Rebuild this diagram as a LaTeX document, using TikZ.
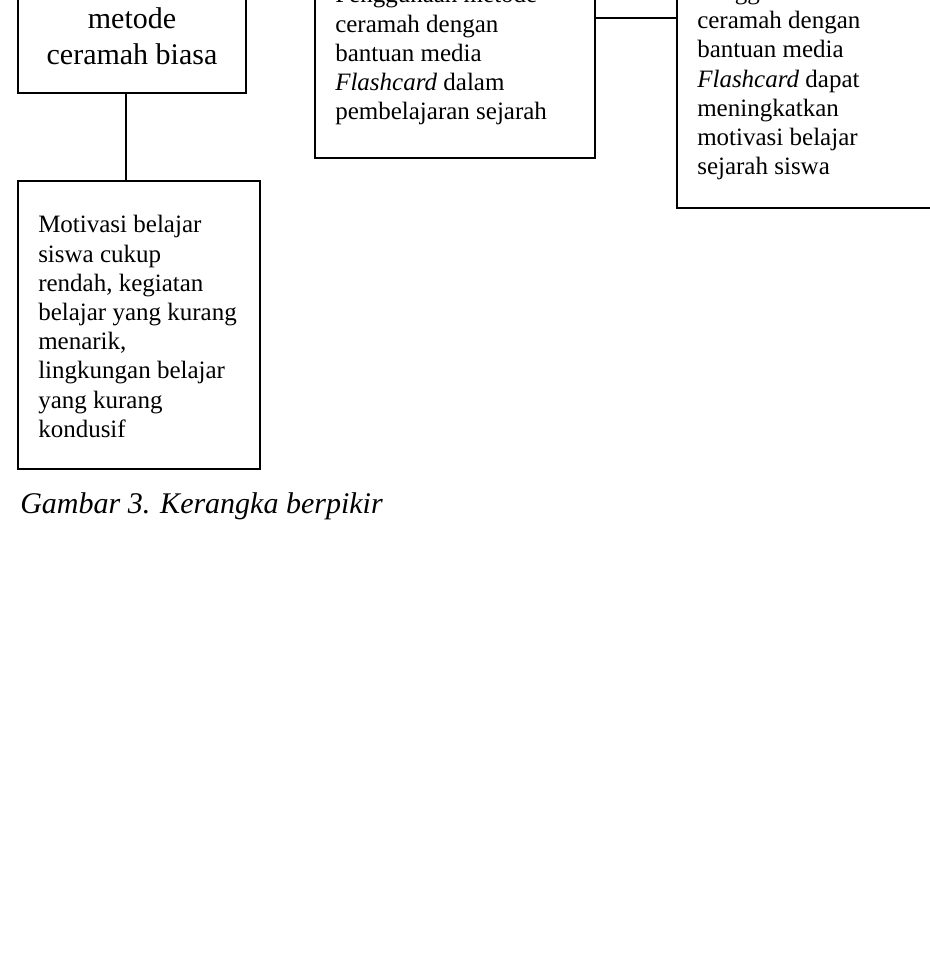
\documentclass[tikz,border=0pt]{standalone}
\usepackage{fontspec}
\setmainfont{Liberation Serif}
\usetikzlibrary{fit}
\tikzset{
  box/.style={draw, line width=1.5pt, inner sep=0pt},
  link/.style={line width=1.5pt},
  txt/.style={inner sep=0pt, anchor=base west},
}
\newcommand\boxtext[1]{\parbox[t]{200pt}{\fontsize{18.75pt}{21.9pt}\selectfont\raggedright #1}}
\begin{document}
\begin{tikzpicture}[x=0.75pt,y=-0.75pt]
\useasboundingbox (0,0) rectangle (930,955);
\clip (0,0) rectangle (930,955);
% boxes
\node[box, fit={(18,-60) (246,93)}] (lbox) {};
\node[box, fit={(315,-60) (595,158)}] (mbox) {};
\node[box, fit={(677,-60) (965,208)}] (rbox) {};
\node[box, fit={(18,181) (260,469)}] (bbox) {};
% texts
\node[txt, anchor=base] (ltext) at (132,-6.5) {\parbox[t]{171pt}{\centering\fontsize{22.5pt}{26.6pt}\selectfont Pembelajaran\\metode\\ceramah biasa}};
\node[txt] (mtext) at (335,3) {\boxtext{Penggunaan metode\\ceramah dengan\\bantuan media\\\textit{Flashcard} dalam\\pembelajaran sejarah}};
\node[txt] (rtext) at (697,-0.5) {\boxtext{Penggunaan metode\\ceramah dengan\\bantuan media\\\textit{Flashcard} dapat\\meningkatkan\\motivasi belajar\\sejarah siswa}};
\node[txt] (btext) at (38,233) {\boxtext{Motivasi belajar\\siswa cukup\\rendah, kegiatan\\belajar yang kurang\\menarik,\\lingkungan belajar\\yang kurang\\kondusif}};
% connectors
\coordinate (v) at (126,0);
\draw[link] (v |- lbox.south) -- (v |- bbox.north);
\coordinate (h) at (0,18);
\draw[link] (mbox.east |- h) -- (rbox.west |- h);
% caption
\node[txt] (cap) at (20,513) {\fontsize{22.5pt}{26pt}\selectfont\itshape Gambar 3. Kerangka berpikir};
\end{tikzpicture}
\end{document}
